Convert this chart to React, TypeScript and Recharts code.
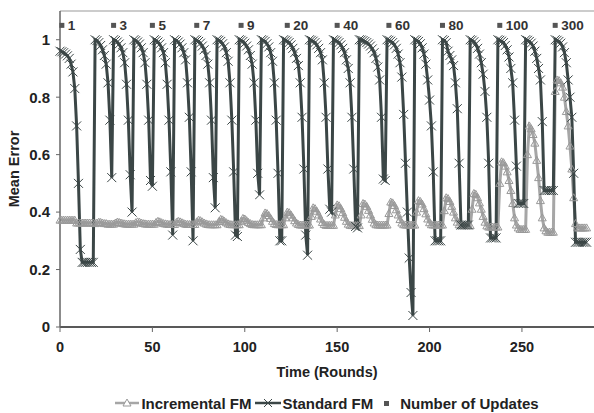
import React from 'react';
import { ComposedChart, Line, Scatter, XAxis, YAxis, ReferenceLine, Legend } from 'recharts';

// Round at which each forgetting/update cycle starts
const cycleStarts = [0, 19, 29, 40, 51, 62, 73, 85, 97, 109, 121, 135, 148, 162, 177, 192, 207, 222, 237, 252, 268];

// Standard FM mean error, one value per round, grouped by cycle
const standardFM: number[][] = [
  [0.96, 0.958, 0.955, 0.95, 0.944, 0.935, 0.915, 0.888, 0.83, 0.7, 0.5, 0.27, 0.225, 0.225, 0.225, 0.225, 0.225, 0.225, 0.225],
  [1, 0.997, 0.99, 0.98, 0.965, 0.945, 0.915, 0.85, 0.72, 0.52],
  [1, 0.997, 0.992, 0.985, 0.972, 0.955, 0.92, 0.845, 0.72, 0.53, 0.4],
  [1, 0.997, 0.992, 0.985, 0.972, 0.955, 0.92, 0.845, 0.72, 0.51, 0.49],
  [1, 0.997, 0.992, 0.985, 0.972, 0.955, 0.92, 0.845, 0.72, 0.54, 0.32],
  [1, 0.997, 0.992, 0.985, 0.972, 0.955, 0.93, 0.85, 0.73, 0.54, 0.3],
  [1, 0.998, 0.994, 0.988, 0.978, 0.965, 0.945, 0.915, 0.85, 0.72, 0.52, 0.415],
  [1, 0.998, 0.994, 0.986, 0.975, 0.955, 0.925, 0.85, 0.72, 0.54, 0.32, 0.315],
  [1, 0.998, 0.994, 0.988, 0.978, 0.965, 0.945, 0.915, 0.85, 0.72, 0.535, 0.46],
  [1, 0.998, 0.994, 0.986, 0.975, 0.955, 0.925, 0.85, 0.72, 0.535, 0.3, 0.3],
  [1, 0.998, 0.995, 0.99, 0.982, 0.97, 0.955, 0.935, 0.91, 0.85, 0.73, 0.55, 0.32, 0.25],
  [1, 0.998, 0.995, 0.99, 0.982, 0.97, 0.955, 0.93, 0.85, 0.73, 0.55, 0.41, 0.4],
  [1, 0.998, 0.995, 0.99, 0.982, 0.97, 0.955, 0.93, 0.9, 0.85, 0.73, 0.55, 0.35, 0.345],
  [1, 0.999, 0.997, 0.994, 0.99, 0.985, 0.978, 0.968, 0.955, 0.935, 0.905, 0.86, 0.73, 0.515, 0.51],
  [1, 0.998, 0.995, 0.99, 0.982, 0.97, 0.95, 0.92, 0.87, 0.74, 0.57, 0.4, 0.24, 0.12, 0.04],
  [1, 0.998, 0.994, 0.986, 0.972, 0.95, 0.915, 0.86, 0.79, 0.7, 0.54, 0.3, 0.3, 0.3, 0.3],
  [1, 0.997, 0.99, 0.96, 0.945, 0.93, 0.91, 0.85, 0.76, 0.57, 0.355, 0.355, 0.355, 0.355, 0.355],
  [1, 0.998, 0.993, 0.985, 0.97, 0.95, 0.92, 0.88, 0.82, 0.73, 0.57, 0.31, 0.31, 0.31, 0.31],
  [1, 0.998, 0.995, 0.99, 0.98, 0.965, 0.94, 0.9, 0.85, 0.72, 0.56, 0.43, 0.43, 0.43, 0.43],
  [1, 0.998, 0.994, 0.988, 0.978, 0.96, 0.935, 0.9, 0.86, 0.715, 0.475, 0.475, 0.475, 0.475, 0.475, 0.475],
  [1, 0.998, 0.994, 0.988, 0.975, 0.955, 0.92, 0.86, 0.8, 0.73, 0.535, 0.295, 0.295, 0.295, 0.295, 0.295, 0.295, 0.295],
];

// Incremental FM mean error, one value per round, grouped by cycle
const incrementalFM: number[][] = [
  [0.372, 0.372, 0.372, 0.372, 0.372, 0.372, 0.372, 0.372, 0.372, 0.362, 0.362, 0.362, 0.362, 0.362, 0.362, 0.362, 0.362, 0.362, 0.362],
  [0.36, 0.362, 0.365, 0.364, 0.362, 0.36, 0.36, 0.358, 0.358, 0.358],
  [0.358, 0.362, 0.365, 0.364, 0.362, 0.36, 0.359, 0.358, 0.358, 0.358, 0.358],
  [0.358, 0.363, 0.366, 0.365, 0.362, 0.36, 0.359, 0.358, 0.358, 0.358, 0.358],
  [0.358, 0.364, 0.368, 0.366, 0.363, 0.36, 0.359, 0.358, 0.357, 0.357, 0.357],
  [0.357, 0.364, 0.368, 0.366, 0.363, 0.36, 0.358, 0.357, 0.357, 0.357, 0.357],
  [0.357, 0.366, 0.372, 0.37, 0.366, 0.362, 0.359, 0.357, 0.356, 0.356, 0.356, 0.356],
  [0.356, 0.367, 0.375, 0.373, 0.368, 0.363, 0.359, 0.357, 0.356, 0.356, 0.356, 0.356],
  [0.356, 0.368, 0.378, 0.376, 0.37, 0.364, 0.36, 0.357, 0.356, 0.356, 0.356, 0.356],
  [0.356, 0.38, 0.397, 0.395, 0.388, 0.378, 0.368, 0.36, 0.357, 0.356, 0.356, 0.356],
  [0.356, 0.38, 0.4, 0.398, 0.39, 0.38, 0.37, 0.362, 0.357, 0.355, 0.355, 0.355, 0.355, 0.355],
  [0.355, 0.385, 0.415, 0.412, 0.403, 0.39, 0.376, 0.364, 0.357, 0.354, 0.354, 0.354, 0.354],
  [0.354, 0.39, 0.425, 0.422, 0.412, 0.398, 0.382, 0.368, 0.358, 0.354, 0.353, 0.353, 0.353, 0.353],
  [0.353, 0.39, 0.43, 0.428, 0.42, 0.406, 0.39, 0.375, 0.362, 0.356, 0.355, 0.355, 0.355, 0.355, 0.355],
  [0.355, 0.395, 0.435, 0.432, 0.423, 0.408, 0.39, 0.374, 0.362, 0.356, 0.355, 0.355, 0.355, 0.355, 0.355],
  [0.355, 0.4, 0.44, 0.437, 0.428, 0.412, 0.394, 0.376, 0.363, 0.356, 0.355, 0.355, 0.355, 0.355, 0.355],
  [0.355, 0.405, 0.45, 0.447, 0.437, 0.42, 0.4, 0.38, 0.365, 0.356, 0.353, 0.353, 0.353, 0.353, 0.353],
  [0.353, 0.41, 0.465, 0.462, 0.45, 0.432, 0.41, 0.385, 0.365, 0.352, 0.348, 0.348, 0.348, 0.348, 0.348],
  [0.348, 0.5, 0.575, 0.572, 0.56, 0.54, 0.51, 0.475, 0.43, 0.38, 0.355, 0.345, 0.34, 0.34, 0.34],
  [0.34, 0.6, 0.7, 0.69, 0.67, 0.64, 0.58, 0.52, 0.44, 0.38, 0.345, 0.335, 0.33, 0.33, 0.33, 0.33],
  [0.82, 0.86, 0.858, 0.85, 0.835, 0.8, 0.75, 0.7, 0.63, 0.55, 0.45, 0.36, 0.345, 0.345, 0.345, 0.345, 0.345, 0.345],
];

// Number of Updates markers
const updateRounds = [1, 29, 50, 74, 98, 123, 150, 178, 207, 238, 268];
const updateLabels = ['1', '3', '5', '7', '9', '20', '40', '60', '80', '100', '300'];
const updateLevel = 1.05;

const xTicks = [0, 50, 100, 150, 200, 250];
const yTicks = [0, 0.2, 0.4, 0.6, 0.8, 1];

const rows: { x: number; std: number; inc: number }[] = [];
cycleStarts.forEach((start, c) => {
  standardFM[c].forEach((v, i) => {
    rows.push({ x: start + i, std: v, inc: incrementalFM[c][i] });
  });
});

const updatePoints = updateRounds.map((r, i) => ({ x: r, y: updateLevel, label: updateLabels[i] }));

const FONT = '"Liberation Sans", Arial, sans-serif';
const STD = '#3b4646';
const INC = '#a6a6a6';
const INC_MK = '#999999';

const XDot = (props: any) => {
  const { cx, cy, index } = props;
  if (cx == null || cy == null) return <g key={`sx${index}`} />;
  const s = 4.5;
  return (
    <path
      key={`sx${index}`}
      d={`M${cx - s},${cy - s}L${cx + s},${cy + s}M${cx - s},${cy + s}L${cx + s},${cy - s}`}
      stroke={STD}
      strokeWidth={1}
      fill="none"
    />
  );
};

const TriDot = (props: any) => {
  const { cx, cy, index } = props;
  if (cx == null || cy == null) return <g key={`it${index}`} />;
  return (
    <path
      key={`it${index}`}
      d={`M${cx},${cy - 4}L${cx + 4},${cy + 3}L${cx - 4},${cy + 3}Z`}
      stroke={INC_MK}
      strokeWidth={1}
      fill="none"
    />
  );
};

const UpdateShape = (props: any) => {
  const { cx, cy, payload } = props;
  if (cx == null || cy == null) return <g />;
  return (
    <g>
      <rect x={cx - 2.5} y={cy - 2.5} width={5} height={5} fill="#555" />
      <text x={cx + 6} y={cy} dominantBaseline="central" fontFamily={FONT} fontWeight="bold" fontSize={13.5} fill="#333">
        {payload.label}
      </text>
    </g>
  );
};

const XTitle = () => (
  <text x={327} y={377} textAnchor="middle" fontFamily={FONT} fontWeight="bold" fontSize={14.5} fill="#222">
    Time (Rounds)
  </text>
);

const YTitle = () => (
  <text
    x={14}
    y={169}
    transform="rotate(-90 14 169)"
    textAnchor="middle"
    dominantBaseline="central"
    fontFamily={FONT}
    fontWeight="bold"
    fontSize={14.5}
    fill="#222"
  >
    Mean Error
  </text>
);

const LegendContent = () => (
  <div
    style={{
      display: 'flex',
      justifyContent: 'center',
      alignItems: 'center',
      height: 20,
      fontFamily: FONT,
      fontWeight: 'bold',
      fontSize: 15,
      color: '#222',
      whiteSpace: 'nowrap',
    }}
  >
    <svg width={24} height={12} style={{ marginRight: 2 }}>
      <line x1={0} y1={6} x2={24} y2={6} stroke={INC} strokeWidth={2.5} />
      <path d="M12,2L16,9L8,9Z" stroke={INC_MK} strokeWidth={1} fill="#fff" />
    </svg>
    <span style={{ marginRight: 4 }}>Incremental FM</span>
    <svg width={26} height={12} style={{ marginRight: 1 }}>
      <line x1={0} y1={6} x2={26} y2={6} stroke={STD} strokeWidth={2.5} />
      <path d="M9,2L17,10M9,10L17,2" stroke={STD} strokeWidth={1} />
    </svg>
    <span style={{ marginRight: 8 }}>Standard FM</span>
    <svg width={10} height={12} style={{ marginRight: 9 }}>
      <rect x={3} y={4} width={5} height={5} fill="#555" />
    </svg>
    <span>Number of Updates</span>
  </div>
);

export default function App() {
  return (
    <div style={{ position: 'absolute', left: 0, top: 0, width: 594, height: 413, overflow: 'hidden', background: '#fff' }}>
      <ComposedChart width={594} height={413} data={rows} margin={{ top: 11, right: 0, bottom: 0, left: 0 }}>
        <XAxis
          type="number"
          dataKey="x"
          domain={[0, 289]}
          ticks={xTicks}
          interval={0}
          height={66}
          tickSize={5}
          tickMargin={10}
          axisLine={{ stroke: '#222', strokeWidth: 1.5 }}
          tickLine={{ stroke: '#666' }}
          tick={{ fontFamily: FONT, fontWeight: 'bold', fontSize: 14.5, fill: '#222' }}
          label={<XTitle />}
        />
        <YAxis
          type="number"
          domain={[0, 1.1]}
          ticks={yTicks}
          interval={0}
          width={60}
          tickSize={4}
          tickMargin={6}
          axisLine={{ stroke: '#666', strokeWidth: 1.5 }}
          tickLine={{ stroke: '#666' }}
          tick={{ fontFamily: FONT, fontWeight: 'bold', fontSize: 15, fill: '#222' }}
          label={<YTitle />}
        />
        <ReferenceLine y={1.1} stroke="#999" strokeWidth={1} />
        <Line
          type="linear"
          dataKey="inc"
          name="Incremental FM"
          stroke={INC}
          strokeWidth={3}
          dot={TriDot}
          activeDot={false}
          isAnimationActive={false}
        />
        <Line
          type="linear"
          dataKey="std"
          name="Standard FM"
          stroke={STD}
          strokeWidth={3}
          dot={XDot}
          activeDot={false}
          isAnimationActive={false}
        />
        <Scatter
          data={updatePoints}
          dataKey="y"
          name="Number of Updates"
          shape={UpdateShape}
          isAnimationActive={false}
        />
        <Legend
          verticalAlign="bottom"
          align="center"
          content={<LegendContent />}
          wrapperStyle={{ left: 60, width: 534, height: 20 }}
        />
      </ComposedChart>
    </div>
  );
}
